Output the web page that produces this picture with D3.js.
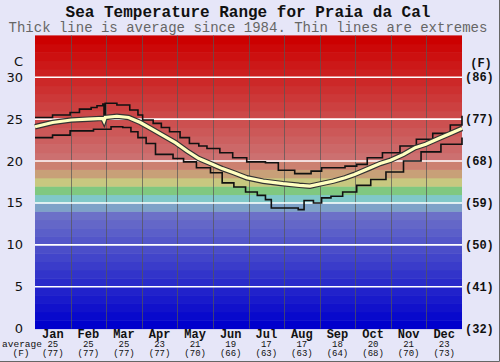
<!DOCTYPE html>
<html>
<head>
<meta charset="utf-8">
<script src="https://cdn.jsdelivr.net/npm/d3@7"></script>
<style>
body { margin: 0; background: #e6e6f8; }
svg { display: block; }
</style>
</head>
<body>
<svg id="chart" width="500" height="362"></svg>
<script>
var months = ["Jan", "Feb", "Mar", "Apr", "May", "Jun", "Jul", "Aug", "Sep", "Oct", "Nov", "Dec"];
var monthAvgC = [25, 25, 25, 23, 21, 19, 17, 17, 18, 20, 21, 23];
var monthAvgF = [77, 77, 77, 77, 70, 66, 63, 63, 64, 68, 70, 73];
var ticksC = [0, 5, 10, 15, 20, 25, 30];
var ticksF = [32, 41, 50, 59, 68, 77, 86];

// [day of year, deg C]
var avgLine = [[0, 24.1], [15, 24.6], [31, 24.9], [45, 25.0], [58, 25.1], [59, 24.8], [60, 25.2],
	[70, 25.35], [80, 25.2], [90, 24.6], [100, 23.8], [110, 23.0], [120, 22.2], [130, 21.2],
	[140, 20.3], [150, 19.7], [160, 19.1], [170, 18.6], [181, 18.0], [195, 17.6], [212, 17.3],
	[226, 17.1], [235, 17.0], [245, 17.3], [255, 17.6], [265, 18.0], [273, 18.4], [285, 19.1],
	[295, 19.7], [304, 20.1], [315, 20.8], [325, 21.6], [334, 22.0], [345, 22.7], [355, 23.3],
	[365, 23.9]];
var maxLine = [[0, 25.2], [15, 25.5], [30, 25.8], [38, 26.2], [48, 26.4], [53, 26.6], [58, 26.8],
	[59, 24.6], [60, 26.9], [70, 26.7], [81, 26.1], [88, 25.5], [92, 24.9], [101, 24.5], [108, 24.0],
	[115, 23.5], [124, 22.8], [132, 22.1], [140, 21.8], [147, 21.5], [158, 21.0], [169, 20.4],
	[181, 19.9], [197, 19.8], [208, 18.9], [222, 18.5], [236, 18.8], [245, 19.2], [265, 19.4],
	[275, 19.6], [284, 20.4], [297, 21.0], [312, 21.8], [326, 22.6], [340, 23.3], [355, 24.3],
	[365, 25.4]];
var minLine = [[0, 22.8], [15, 23.1], [30, 23.6], [50, 23.8], [65, 24.1], [75, 24.0], [82, 23.5],
	[88, 22.8], [95, 22.1], [103, 20.8], [118, 20.3], [127, 19.9], [138, 19.2], [150, 18.6],
	[160, 17.4], [170, 16.9], [180, 16.3], [190, 15.9], [197, 15.4], [202, 14.4], [225, 14.2],
	[230, 15.3], [238, 15.0], [245, 15.6], [253, 15.8], [263, 16.3], [275, 17.1], [287, 17.8],
	[300, 18.7], [315, 20.0], [330, 21.1], [347, 22.0], [365, 22.8]];

var svg = d3.select("#chart");
var plotL = 35, plotR = 462, plotT = 35.4, plotB = 328.6;

var x = d3.scaleLinear().domain([0, 365]).range([plotL, plotR]);
var xm = d3.scaleBand().domain(months).range([plotL, plotR]);
var y = d3.scaleLinear().domain([0, 35]).range([plotB, plotT]);

// colour of the 1 degree band starting at t
function bandColor(t) {
	if (t >= 20) {
		var k = Math.round(112 * (34 - t) / 14);
		return d3.rgb(204, k, k);
	}
	var mid = {19: "#cc8070", 18: "#c8a078", 17: "#c8c880", 16: "#80c880", 15: "#80c8c8", 14: "#7ea2c8"};
	if (mid[t]) return mid[t];
	var f = t / 13;
	return d3.rgb(Math.round(108 * f), Math.round(112 * f), 204 - Math.round(4 * f));
}

// border
svg.append("path").attr("d", "M499.5,0V361.5H0")
	.style("fill", "none").style("stroke", "#666");

svg.append("g").selectAll("rect")
	.data(d3.range(0, 35))
	.enter()
	.append("rect")
	.attr("x", plotL)
	.attr("width", plotR - plotL)
	.attr("y", function(d) { return y(d + 1); })
	.attr("height", function(d) { return y(d) - y(d + 1) + 0.5; })
	.style("fill", function(d) { return bandColor(d); });

// month dividers
svg.append("g").selectAll("line")
	.data(months.slice(1))
	.enter()
	.append("line")
	.attr("x1", function(d) { return Math.round(xm(d)) + 0.5; })
	.attr("x2", function(d) { return Math.round(xm(d)) + 0.5; })
	.attr("y1", plotT)
	.attr("y2", plotB)
	.style("stroke", "#555")
	.style("stroke-opacity", 0.7);

// white degree lines
svg.append("g").selectAll("line")
	.data(ticksC.slice(1))
	.enter()
	.append("line")
	.attr("x1", plotL)
	.attr("x2", plotR)
	.attr("y1", function(d) { return y(d); })
	.attr("y2", function(d) { return y(d); })
	.style("stroke", "#fff")
	.style("stroke-width", 1.6);

var stepLine = d3.line()
	.x(function(d) { return x(d[0]); })
	.y(function(d) { return y(d[1]); })
	.curve(d3.curveStepAfter);
var smoothLine = d3.line()
	.x(function(d) { return x(d[0]); })
	.y(function(d) { return y(d[1]); });

[maxLine, minLine].forEach(function(series) {
	svg.append("path")
		.attr("d", stepLine(series))
		.style("fill", "none")
		.style("stroke", "#111")
		.style("stroke-width", 1.6);
});

svg.append("path")
	.attr("d", smoothLine(avgLine))
	.style("fill", "none")
	.style("stroke", "#333")
	.style("stroke-width", 5.5);
svg.append("path")
	.attr("d", smoothLine(avgLine))
	.style("fill", "none")
	.style("stroke", "#ffffc0")
	.style("stroke-width", 3.2);

// titles
svg.append("text")
	.attr("x", 248).attr("y", 17)
	.attr("text-anchor", "middle")
	.style("font", "bold 16px 'Liberation Mono', monospace")
	.style("fill", "#111")
	.text("Sea Temperature Range for Praia da Cal");
svg.append("text")
	.attr("x", 248).attr("y", 32)
	.attr("text-anchor", "middle")
	.style("font", "14px 'Liberation Mono', monospace")
	.style("fill", "#666")
	.text("Thick line is average since 1984. Thin lines are extremes");

// left axis (C)
svg.append("g").selectAll("text")
	.data(ticksC)
	.enter()
	.append("text")
	.attr("x", 23)
	.attr("y", function(d) { return y(d); })
	.attr("dy", "0.35em")
	.attr("text-anchor", "end")
	.style("font", "13px 'DejaVu Sans', sans-serif")
	.style("fill", "#111")
	.text(function(d) { return d; });
svg.append("text")
	.attr("x", 23).attr("y", 61).attr("dy", "0.35em")
	.attr("text-anchor", "end")
	.style("font", "13px 'DejaVu Sans', sans-serif")
	.style("fill", "#111")
	.text("C");

// right axis (F)
svg.append("g").selectAll("text")
	.data(ticksF)
	.enter()
	.append("text")
	.attr("x", 465)
	.attr("y", function(d, i) { return y(ticksC[i]); })
	.attr("dy", "0.35em")
	.style("font", "bold 12px 'Liberation Mono', monospace")
	.style("fill", "#111")
	.text(function(d) { return "(" + d + ")"; });
svg.append("text")
	.attr("x", 481).attr("y", 63).attr("dy", "0.35em")
	.attr("text-anchor", "middle")
	.style("font", "bold 12px 'Liberation Mono', monospace")
	.style("fill", "#111")
	.text("(F)");

// month labels with averages
var mg = svg.append("g").selectAll("g")
	.data(months)
	.enter()
	.append("g")
	.attr("transform", function(d) { return "translate(" + (xm(d) + xm.bandwidth() / 2) + ",0)"; });
mg.append("text")
	.attr("y", 338)
	.attr("text-anchor", "middle")
	.style("font", "bold 12px 'Liberation Mono', monospace")
	.style("fill", "#111")
	.text(function(d) { return d; });
mg.append("text")
	.attr("y", 346.5)
	.attr("text-anchor", "middle")
	.style("font", "9px 'Liberation Mono', monospace")
	.style("fill", "#111")
	.text(function(d, i) { return monthAvgC[i]; });
mg.append("text")
	.attr("y", 355.5)
	.attr("text-anchor", "middle")
	.style("font", "9px 'Liberation Mono', monospace")
	.style("fill", "#111")
	.text(function(d, i) { return "(" + monthAvgF[i] + ")"; });

svg.append("text")
	.attr("x", 22).attr("y", 346.5)
	.attr("text-anchor", "middle")
	.style("font", "9.5px 'Liberation Mono', monospace")
	.style("fill", "#111")
	.text("average");
svg.append("text")
	.attr("x", 21).attr("y", 355.5)
	.attr("text-anchor", "middle")
	.style("font", "9.5px 'Liberation Mono', monospace")
	.style("fill", "#111")
	.text("(F)");
</script>
</body>
</html>
